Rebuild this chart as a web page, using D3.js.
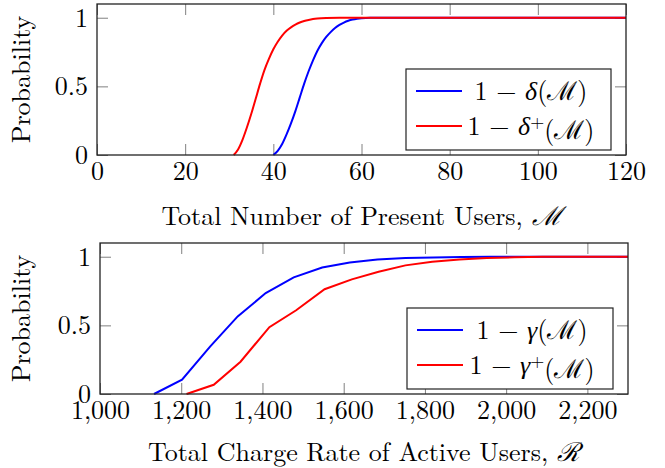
<!DOCTYPE html>
<html>
<head>
<meta charset="utf-8">
<script src="https://cdn.jsdelivr.net/npm/d3@7"></script>
<style>
body{margin:0;background:#fff;}
svg{display:block;font-family:"Latin Modern Roman","CMU Serif","Liberation Serif",serif;}
</style>
</head>
<body>
<svg width="665" height="468"></svg>
<script>
// top panel: number of present users M
let mX1=[31,32,33,34,35,36,37,38,39,40,41,42,43,44,45,46,47,48,49,50,52,55,120];
let deltaPlus=[0,0.04,0.11,0.20,0.30,0.41,0.52,0.62,0.70,0.77,0.825,0.87,0.905,0.93,0.95,0.965,0.976,0.984,0.99,0.994,0.998,1,1];
let mX2=[40,41,42,43,44,45,46,47,48,49,50,51,52,53,54,55,56,57,58,59,60,62,120];
let delta=[0,0.03,0.08,0.15,0.23,0.32,0.42,0.52,0.61,0.69,0.76,0.815,0.86,0.895,0.925,0.948,0.965,0.978,0.987,0.993,0.997,1,1];
let topTicksX=[0,20,40,60,80,100,120];

// bottom panel: total charge rate R
let rX1=[1133,1202,1271,1339,1408,1477,1547,1615,1683,1752,1821,1890,1960,2030,2100,2300];
let gamma=[0,0.105,0.345,0.565,0.735,0.85,0.922,0.958,0.98,0.99,0.995,0.998,1,1,1,1];
let rX2=[1213,1280,1346,1417,1483,1553,1620,1686,1752,1818,1885,1952,2020,2090,2160,2300];
let gammaPlus=[0,0.067,0.235,0.487,0.61,0.763,0.835,0.89,0.937,0.963,0.979,0.99,0.996,0.999,1,1];
let botTicksX=[1000,1200,1400,1600,1800,2000,2200];

let yTicks=[0,0.5,1];

const svg=d3.select('svg');
const fs=26;
const serif='"Latin Modern Roman","CMU Serif","Liberation Serif",serif';

let drawPanel=(cfg)=>{
  let x=d3.scaleLinear().domain(cfg.xDomain).range([cfg.left,cfg.right]);
  let y=d3.scaleLinear().domain([0,1.1]).range([cfg.bottom,cfg.top]);
  let g=svg.append('g');

  // inside ticks on all four sides
  let tickStyle=(sel)=>{
    sel.attr('font-family',serif).attr('font-size',fs);
    sel.select('.domain').remove();
    sel.selectAll('.tick line').attr('stroke','#808080').attr('stroke-width',1);
    sel.selectAll('.tick text').attr('fill','#000');
  };
  g.append('g').attr('transform','translate(0,'+cfg.bottom+')')
    .call(d3.axisBottom(x).tickValues(cfg.ticks).tickSize(-11).tickPadding(7).tickFormat(cfg.fmt))
    .call(tickStyle);
  g.append('g').attr('transform','translate(0,'+cfg.top+')')
    .call(d3.axisTop(x).tickValues(cfg.ticks).tickSize(-11).tickFormat(''))
    .call(tickStyle);
  g.append('g').attr('transform','translate('+cfg.left+',0)')
    .call(d3.axisLeft(y).tickValues(yTicks).tickSize(-11).tickPadding(9).tickFormat(d3.format('~g')))
    .call(tickStyle);
  g.append('g').attr('transform','translate('+cfg.right+',0)')
    .call(d3.axisRight(y).tickValues(yTicks).tickSize(-11).tickFormat(''))
    .call(tickStyle);

  let line=d3.line().x(d=>x(d[0])).y(d=>y(d[1])).curve(cfg.curve);
  cfg.series.forEach(s=>{
    g.append('path').datum(d3.zip(s.xs,s.ys))
      .attr('d',line).attr('fill','none')
      .attr('stroke',s.color).attr('stroke-width',2);
  });

  g.append('rect').attr('x',cfg.left).attr('y',cfg.top)
    .attr('width',cfg.right-cfg.left).attr('height',cfg.bottom-cfg.top)
    .attr('fill','none').attr('stroke','#222').attr('stroke-width',1.3);

  // axis labels
  g.append('text').attr('transform','translate(30,'+((cfg.top+cfg.bottom)/2)+') rotate(-90)')
    .attr('text-anchor','middle').style('font-size',fs+'px').text('Probability');
  let xl=g.append('text').attr('x',(cfg.left+cfg.right)/2).attr('y',cfg.bottom+cfg.titleOff)
    .attr('text-anchor','middle').style('font-size',fs+'px');
  xl.append('tspan').text(cfg.xTitle);
  xl.append('tspan').attr('font-style','italic').text(cfg.xSym);

  // legend
  let L=cfg.legend;
  g.append('rect').attr('x',L.x).attr('y',L.y).attr('width',L.w).attr('height',L.h)
    .attr('fill','#fff').attr('stroke','#222').attr('stroke-width',1.2);
  cfg.series.forEach((s,i)=>{
    let ry=L.y+22+i*35;
    g.append('line').attr('x1',L.x+10).attr('x2',L.x+56).attr('y1',ry).attr('y2',ry)
      .attr('stroke',s.color).attr('stroke-width',2);
    let t=g.append('text').attr('x',L.x+125).attr('y',ry).attr('dy','0.36em')
      .attr('text-anchor','middle').style('font-size',fs+'px');
    t.append('tspan').text('1 − ');
    t.append('tspan').attr('font-style','italic').text(s.sym);
    if(s.plus){
      t.append('tspan').attr('dy','-0.4em').style('font-size','18px').text('+');
      t.append('tspan').attr('dy','0.4em').text('(ℳ)');
    }else{
      t.append('tspan').text('(ℳ)');
    }
  });
};

drawPanel({
  left:97,right:626,top:4,bottom:155,
  xDomain:[0,120],ticks:topTicksX,fmt:d3.format('d'),curve:d3.curveMonotoneX,
  xTitle:'Total Number of Present Users, ',xSym:'ℳ',titleOff:70,
  legend:{x:406,y:69,w:205,h:81},
  series:[
    {xs:mX2,ys:delta,color:'#0000ff',sym:'δ',plus:false},
    {xs:mX1,ys:deltaPlus,color:'#ff0000',sym:'δ',plus:true}
  ]
});

drawPanel({
  left:100,right:628,top:243,bottom:394,
  xDomain:[1000,2300],ticks:botTicksX,fmt:d3.format(','),curve:d3.curveLinear,
  xTitle:'Total Charge Rate of Active Users, ',xSym:'ℛ',titleOff:67,
  legend:{x:407,y:308,w:206,h:81},
  series:[
    {xs:rX1,ys:gamma,color:'#0000ff',sym:'γ',plus:false},
    {xs:rX2,ys:gammaPlus,color:'#ff0000',sym:'γ',plus:true}
  ]
});
</script>
</body>
</html>
